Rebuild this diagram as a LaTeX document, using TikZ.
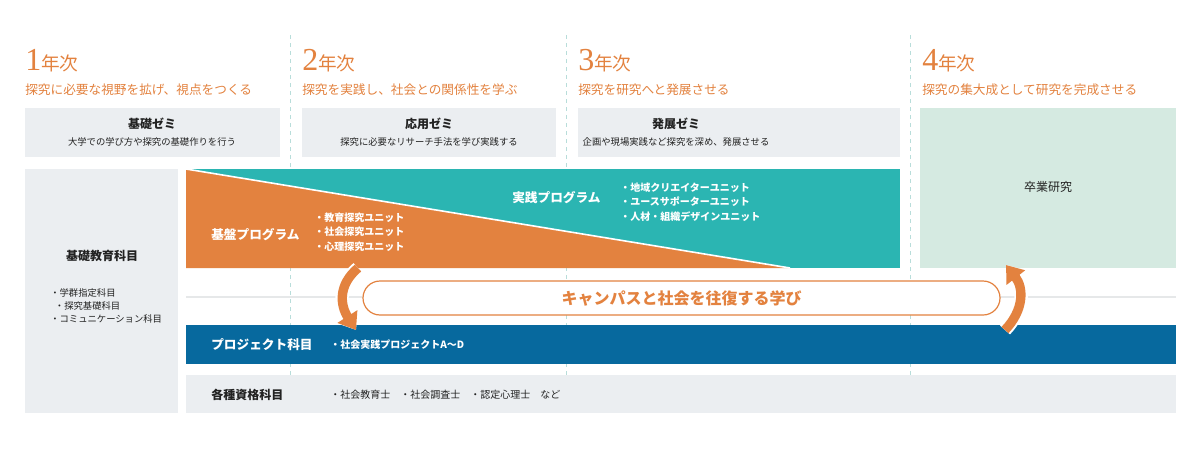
\documentclass[tikz,border=0pt]{standalone}
\usepackage{fontspec}
\setmainfont{Noto Sans CJK JP}
\newfontfamily\numfont{Liberation Serif}
\usetikzlibrary{arrows.meta}
\definecolor{org}{HTML}{E3823F}
\definecolor{tea}{HTML}{2BB5B2}
\definecolor{blu}{HTML}{07699E}
\definecolor{gry}{HTML}{EBEEF1}
\definecolor{grn}{HTML}{D5EAE1}
\definecolor{dsh}{HTML}{B8DDDA}
\definecolor{txt}{HTML}{222222}
\tikzset{
 yr/.style={anchor=base west,text=org,inner sep=0},
 sub/.style={anchor=west,text=org,font=\fontsize{9.5}{11}\selectfont,inner sep=0},
 ttl/.style={text=txt,font=\bfseries\fontsize{9}{11}\selectfont,inner sep=0},
 dsc/.style={text=txt,font=\fontsize{7}{9}\selectfont,inner sep=0},
 wt/.style={text=white,font=\bfseries\fontsize{9.5}{11}\selectfont,inner sep=0,anchor=west},
 wl/.style={text=white,font=\bfseries\fontsize{7.5}{11}\selectfont,inner sep=0,anchor=west,align=left},
 arr/.style={org,line width=7pt,-{Triangle[width=17pt,length=12pt]},preaction={draw=white,line width=10pt,-{Triangle[width=21pt,length=14pt]}}}
}
\begin{document}
\begin{tikzpicture}[x=0.75pt,y=-0.75pt]
\useasboundingbox (0,0) rectangle (1200,450);
\fill[white] (0,0) rectangle (1200,450);
% dashed dividers
\foreach \x in {290,566,910} \draw[dsh,dashed,line width=0.6pt] (\x,35) -- (\x,375);
% year headers
\node[yr] (y1) at (25,70) {{\numfont\fontsize{24}{24}\selectfont 1}{\fontsize{14}{14}\selectfont 年次}};
\node[yr] (y2) at (302,70) {{\numfont\fontsize{24}{24}\selectfont 2}{\fontsize{14}{14}\selectfont 年次}};
\node[yr] (y3) at (578,70) {{\numfont\fontsize{24}{24}\selectfont 3}{\fontsize{14}{14}\selectfont 年次}};
\node[yr] (y4) at (922,70) {{\numfont\fontsize{24}{24}\selectfont 4}{\fontsize{14}{14}\selectfont 年次}};
\node[sub] (s1) at (25,90) {探究に必要な視野を拡げ、視点をつくる};
\node[sub] (s2) at (302,90) {探究を実践し、社会との関係性を学ぶ};
\node[sub] (s3) at (578,90) {探究を研究へと発展させる};
\node[sub] (s4) at (922,90) {探究の集大成として研究を完成させる};
% seminar boxes
\fill[gry] (25,108) rectangle (280,157);
\fill[gry] (302,108) rectangle (556,157);
\fill[gry] (578,108) rectangle (900,157);
\fill[grn] (920,108) rectangle (1176,268);
\node[ttl] (k1) at (152,124) {基礎ゼミ};
\node[dsc] (d1) at (152,142) {大学での学び方や探究の基礎作りを行う};
\node[ttl] (k2) at (429,124) {応用ゼミ};
\node[dsc] (d2) at (429,142) {探究に必要なリサーチ手法を学び実践する};
\node[ttl] (k3) at (676,124) {発展ゼミ};
\node[dsc] (d3) at (676,142) {企画や現場実践など探究を深め、発展させる};
\node[ttl,font=\fontsize{9}{11}\selectfont] (sotsu) at (1048,187) {卒業研究};
% left box
\fill[gry] (25,169) rectangle (178,413);
\node[ttl] (kiso) at (102,256) {基礎教育科目};
\node[dsc,align=left,anchor=north west] (kl) at (50,288) {・学群指定科目\\[1pt]\hspace{0.5em}・探究基礎科目\\[1pt]・コミュニケーション科目};
% programs
\fill[tea] (186,169) rectangle (900,268);
\fill[org] (186,169) -- (790,268) -- (186,268) -- cycle;
\draw[white,line width=1.2pt] (186,169) -- (790,268);
\node[wt] (jp) at (512,198) {実践プログラム};
\node[wl] (jl) at (620,202) {・地域クリエイターユニット\\・ユースサポーターユニット\\・人材・組織デザインユニット};
\node[wt] (kp) at (211,235) {基盤プログラム};
\node[wl] (kpl) at (314,232) {・教育探究ユニット\\・社会探究ユニット\\・心理探究ユニット};
% middle line and pill
\draw[gry!80!gray!60,line width=0.8pt] (186,297) -- (1176,297);
\node[draw=org,line width=0.9pt,fill=white,rounded corners=17*0.75pt,minimum width=637*0.75pt,minimum height=34*0.75pt,text=org,font=\bfseries\fontsize{12}{14}\selectfont] (pill) at (681.5,298) {キャンパスと社会を往復する学び};
% project bar
\fill[blu] (186,325) rectangle (1176,364);
\node[wt] (pj) at (211,345) {プロジェクト科目};
\node[wl] (pjl) at (330,345) {・社会実践プロジェクトA〜D};
% qualifications
\fill[gry] (186,375) rectangle (1176,413);
\node[ttl,anchor=west] (sk) at (211,395) {各種資格科目};
\node[dsc,anchor=west,font=\fontsize{7.5}{9}\selectfont] (skl) at (330,395) {・社会教育士\quad ・社会調査士\quad ・認定心理士\quad など};
% arrows
\coordinate (a1s) at (358,268);
\coordinate (a1e) at (356,330);
\coordinate (a2s) at (1005,330);
\coordinate (a2e) at (1006,265);
\draw[arr] (a1s) .. controls (338,285) and (340,305) .. (a1e);
\draw[arr] (a2s) .. controls (1024,310) and (1024,288) .. (a2e);
\end{tikzpicture}
\end{document}
